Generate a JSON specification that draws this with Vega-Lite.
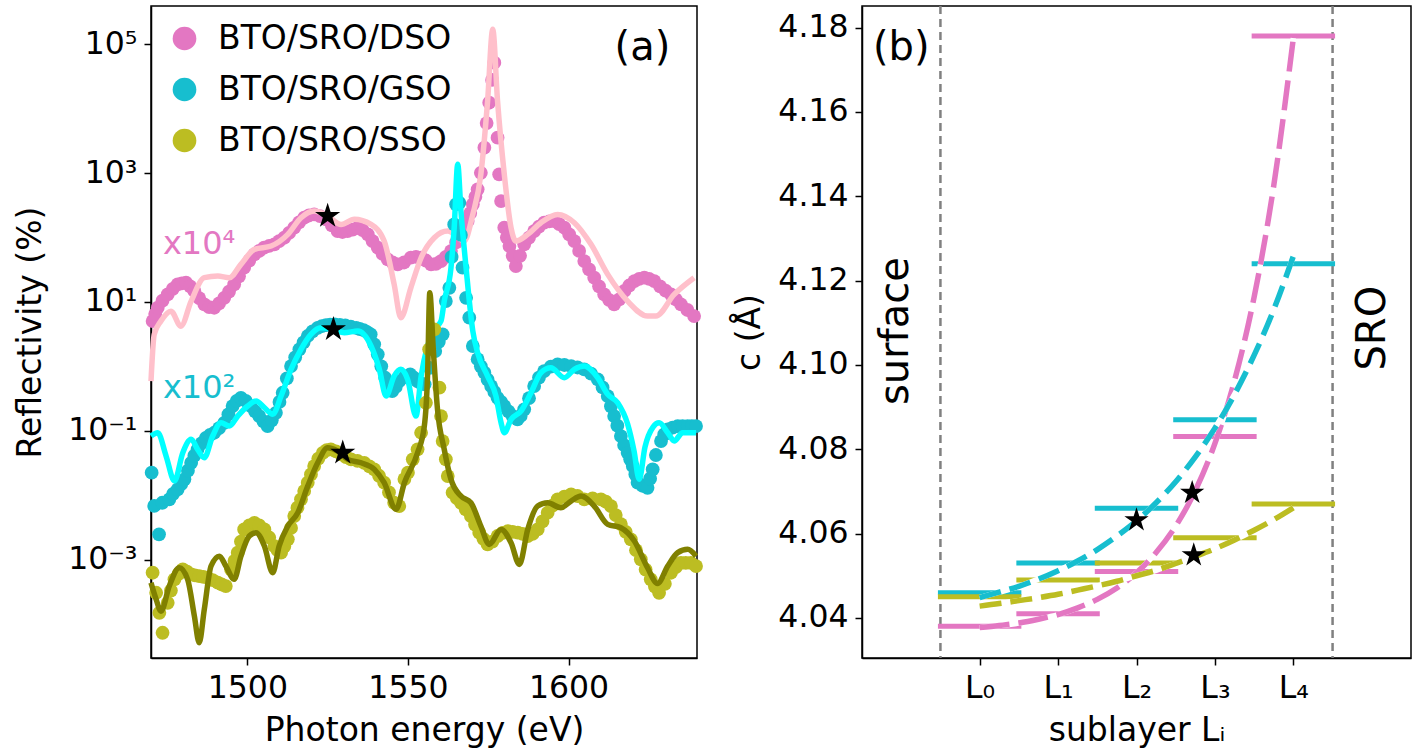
{
  "$schema": "https://vega.github.io/schema/vega-lite/v6.json",
  "autosize": {"type": "pad"},
  "padding": {"left": 13, "top": 4, "right": 12, "bottom": 0},
  "background": "white",
  "bounds": "flush",
  "spacing": 165,
  "resolve": {"scale": {"color": "independent", "x": "independent", "y": "independent"}, "legend": {"color": "independent"}},
  "config": {
    "font": "DejaVu Sans",
    "view": {"stroke": "black", "strokeWidth": 1.5},
    "axis": {
      "labelFont": "DejaVu Sans", "titleFont": "DejaVu Sans",
      "labelFontSize": 31.5, "titleFontSize": 33, "titleFontWeight": "normal",
      "labelColor": "black", "titleColor": "black", "tickColor": "black", "domainColor": "black",
      "tickSize": 7, "tickWidth": 1.5, "domainWidth": 1.5, "grid": false,
      "labelFlush": false, "labelOverlap": false
    },
    "text": {"font": "DejaVu Sans"}
  },
  "datasets": {
    "dots": [
      {"s":"BTO/SRO/DSO","E":1470.5,"R":5.05},{"s":"BTO/SRO/DSO","E":1471.3,"R":6.5},{"s":"BTO/SRO/DSO","E":1472.1,"R":8.13},{"s":"BTO/SRO/DSO","E":1473.6,"R":10.5},{"s":"BTO/SRO/DSO","E":1475.2,"R":13.1},{"s":"BTO/SRO/DSO","E":1476.8,"R":16},{"s":"BTO/SRO/DSO","E":1478.3,"R":18.8},{"s":"BTO/SRO/DSO","E":1479.6,"R":19.5},{"s":"BTO/SRO/DSO","E":1480.9,"R":19.9},{"s":"BTO/SRO/DSO","E":1482.2,"R":17.5},{"s":"BTO/SRO/DSO","E":1483.5,"R":14.8},{"s":"BTO/SRO/DSO","E":1485.0,"R":11.5},{"s":"BTO/SRO/DSO","E":1486.6,"R":9.18},{"s":"BTO/SRO/DSO","E":1488.1,"R":8.3},{"s":"BTO/SRO/DSO","E":1489.7,"R":8.13},{"s":"BTO/SRO/DSO","E":1491.2,"R":9.5},{"s":"BTO/SRO/DSO","E":1492.8,"R":11.6},{"s":"BTO/SRO/DSO","E":1494.3,"R":14.5},{"s":"BTO/SRO/DSO","E":1495.9,"R":18.8},{"s":"BTO/SRO/DSO","E":1497.4,"R":25},{"s":"BTO/SRO/DSO","E":1499.0,"R":34},{"s":"BTO/SRO/DSO","E":1500.6,"R":44},{"s":"BTO/SRO/DSO","E":1502.2,"R":54.8},{"s":"BTO/SRO/DSO","E":1503.7,"R":62},{"s":"BTO/SRO/DSO","E":1505.2,"R":69.5},{"s":"BTO/SRO/DSO","E":1506.8,"R":74},{"s":"BTO/SRO/DSO","E":1508.4,"R":78.4},{"s":"BTO/SRO/DSO","E":1509.9,"R":88},{"s":"BTO/SRO/DSO","E":1511.5,"R":99.3},{"s":"BTO/SRO/DSO","E":1513.0,"R":118},{"s":"BTO/SRO/DSO","E":1514.6,"R":142},{"s":"BTO/SRO/DSO","E":1516.1,"R":172},{"s":"BTO/SRO/DSO","E":1517.7,"R":203},{"s":"BTO/SRO/DSO","E":1519.2,"R":220},{"s":"BTO/SRO/DSO","E":1520.8,"R":229},{"s":"BTO/SRO/DSO","E":1522.6,"R":215},{"s":"BTO/SRO/DSO","E":1524.5,"R":192},{"s":"BTO/SRO/DSO","E":1526.3,"R":155},{"s":"BTO/SRO/DSO","E":1528.1,"R":126},{"s":"BTO/SRO/DSO","E":1529.6,"R":122},{"s":"BTO/SRO/DSO","E":1531.2,"R":126},{"s":"BTO/SRO/DSO","E":1532.8,"R":133},{"s":"BTO/SRO/DSO","E":1534.4,"R":142},{"s":"BTO/SRO/DSO","E":1535.9,"R":130},{"s":"BTO/SRO/DSO","E":1537.5,"R":112},{"s":"BTO/SRO/DSO","E":1539.0,"R":88},{"s":"BTO/SRO/DSO","E":1540.6,"R":69.5},{"s":"BTO/SRO/DSO","E":1542.1,"R":56},{"s":"BTO/SRO/DSO","E":1543.7,"R":45.8},{"s":"BTO/SRO/DSO","E":1545.2,"R":41},{"s":"BTO/SRO/DSO","E":1546.8,"R":38.4},{"s":"BTO/SRO/DSO","E":1548.8,"R":41},{"s":"BTO/SRO/DSO","E":1550.9,"R":48.6},{"s":"BTO/SRO/DSO","E":1552.5,"R":50},{"s":"BTO/SRO/DSO","E":1554.1,"R":48.6},{"s":"BTO/SRO/DSO","E":1555.6,"R":44},{"s":"BTO/SRO/DSO","E":1557.2,"R":38.4},{"s":"BTO/SRO/DSO","E":1558.7,"R":39},{"s":"BTO/SRO/DSO","E":1560.3,"R":43.2},{"s":"BTO/SRO/DSO","E":1561.8,"R":50},{"s":"BTO/SRO/DSO","E":1563.4,"R":61.7},{"s":"BTO/SRO/DSO","E":1565.0,"R":84},{"s":"BTO/SRO/DSO","E":1566.5,"R":112},{"s":"BTO/SRO/DSO","E":1567.6,"R":140},{"s":"BTO/SRO/DSO","E":1568.6,"R":180},{"s":"BTO/SRO/DSO","E":1569.4,"R":240},{"s":"BTO/SRO/DSO","E":1570.2,"R":328},{"s":"BTO/SRO/DSO","E":1571.0,"R":430},{"s":"BTO/SRO/DSO","E":1571.7,"R":560},{"s":"BTO/SRO/DSO","E":1572.7,"R":1010},{"s":"BTO/SRO/DSO","E":1573.8,"R":2480},{"s":"BTO/SRO/DSO","E":1574.5,"R":6000},{"s":"BTO/SRO/DSO","E":1575.3,"R":12400},{"s":"BTO/SRO/DSO","E":1576.2,"R":28000},{"s":"BTO/SRO/DSO","E":1576.9,"R":51800},{"s":"BTO/SRO/DSO","E":1577.9,"R":3550},{"s":"BTO/SRO/DSO","E":1578.4,"R":958},{"s":"BTO/SRO/DSO","E":1579.0,"R":369},{"s":"BTO/SRO/DSO","E":1580.0,"R":142},{"s":"BTO/SRO/DSO","E":1580.8,"R":100},{"s":"BTO/SRO/DSO","E":1581.6,"R":73.8},{"s":"BTO/SRO/DSO","E":1582.6,"R":52},{"s":"BTO/SRO/DSO","E":1583.6,"R":36.1},{"s":"BTO/SRO/DSO","E":1584.9,"R":52},{"s":"BTO/SRO/DSO","E":1586.2,"R":78.4},{"s":"BTO/SRO/DSO","E":1587.7,"R":100},{"s":"BTO/SRO/DSO","E":1589.3,"R":126},{"s":"BTO/SRO/DSO","E":1590.8,"R":148},{"s":"BTO/SRO/DSO","E":1592.4,"R":170},{"s":"BTO/SRO/DSO","E":1594.0,"R":178},{"s":"BTO/SRO/DSO","E":1595.6,"R":180},{"s":"BTO/SRO/DSO","E":1597.1,"R":162},{"s":"BTO/SRO/DSO","E":1598.7,"R":142},{"s":"BTO/SRO/DSO","E":1600.2,"R":112},{"s":"BTO/SRO/DSO","E":1601.8,"R":88.3},{"s":"BTO/SRO/DSO","E":1603.3,"R":62},{"s":"BTO/SRO/DSO","E":1604.9,"R":43.2},{"s":"BTO/SRO/DSO","E":1606.4,"R":32},{"s":"BTO/SRO/DSO","E":1608.0,"R":23.8},{"s":"BTO/SRO/DSO","E":1609.5,"R":17.5},{"s":"BTO/SRO/DSO","E":1611.1,"R":13.1},{"s":"BTO/SRO/DSO","E":1612.6,"R":10.8},{"s":"BTO/SRO/DSO","E":1614.2,"R":9.18},{"s":"BTO/SRO/DSO","E":1615.8,"R":11},{"s":"BTO/SRO/DSO","E":1617.4,"R":14.8},{"s":"BTO/SRO/DSO","E":1618.9,"R":18},{"s":"BTO/SRO/DSO","E":1620.5,"R":21.1},{"s":"BTO/SRO/DSO","E":1622.0,"R":22.8},{"s":"BTO/SRO/DSO","E":1623.6,"R":23.8},{"s":"BTO/SRO/DSO","E":1625.1,"R":22.8},{"s":"BTO/SRO/DSO","E":1626.7,"R":21.1},{"s":"BTO/SRO/DSO","E":1628.5,"R":17.5},{"s":"BTO/SRO/DSO","E":1630.2,"R":15},{"s":"BTO/SRO/DSO","E":1631.9,"R":13.1},{"s":"BTO/SRO/DSO","E":1633.4,"R":11},{"s":"BTO/SRO/DSO","E":1635.0,"R":9.18},{"s":"BTO/SRO/DSO","E":1637.0,"R":7.5},{"s":"BTO/SRO/DSO","E":1639.1,"R":6.04},
      {"s":"BTO/SRO/GSO","E":1470.2,"R":0.0223},{"s":"BTO/SRO/GSO","E":1471.0,"R":0.0068},{"s":"BTO/SRO/GSO","E":1472.5,"R":0.00246},{"s":"BTO/SRO/GSO","E":1473.5,"R":0.00762},{"s":"BTO/SRO/GSO","E":1475.7,"R":0.00861},{"s":"BTO/SRO/GSO","E":1476.9,"R":0.0105},{"s":"BTO/SRO/GSO","E":1478.3,"R":0.0123},{"s":"BTO/SRO/GSO","E":1479.4,"R":0.0148},{"s":"BTO/SRO/GSO","E":1480.4,"R":0.0176},{"s":"BTO/SRO/GSO","E":1481.5,"R":0.024},{"s":"BTO/SRO/GSO","E":1482.5,"R":0.0318},{"s":"BTO/SRO/GSO","E":1483.5,"R":0.041},{"s":"BTO/SRO/GSO","E":1484.5,"R":0.0514},{"s":"BTO/SRO/GSO","E":1485.8,"R":0.064},{"s":"BTO/SRO/GSO","E":1487.1,"R":0.0778},{"s":"BTO/SRO/GSO","E":1488.4,"R":0.086},{"s":"BTO/SRO/GSO","E":1489.7,"R":0.0931},{"s":"BTO/SRO/GSO","E":1491.2,"R":0.11},{"s":"BTO/SRO/GSO","E":1492.8,"R":0.133},{"s":"BTO/SRO/GSO","E":1494.1,"R":0.18},{"s":"BTO/SRO/GSO","E":1495.4,"R":0.242},{"s":"BTO/SRO/GSO","E":1496.7,"R":0.29},{"s":"BTO/SRO/GSO","E":1498.0,"R":0.325},{"s":"BTO/SRO/GSO","E":1499.5,"R":0.29},{"s":"BTO/SRO/GSO","E":1501.1,"R":0.242},{"s":"BTO/SRO/GSO","E":1502.4,"R":0.2},{"s":"BTO/SRO/GSO","E":1503.7,"R":0.169},{"s":"BTO/SRO/GSO","E":1505.0,"R":0.14},{"s":"BTO/SRO/GSO","E":1506.3,"R":0.118},{"s":"BTO/SRO/GSO","E":1507.6,"R":0.145},{"s":"BTO/SRO/GSO","E":1508.9,"R":0.19},{"s":"BTO/SRO/GSO","E":1510.0,"R":0.28},{"s":"BTO/SRO/GSO","E":1511.0,"R":0.389},{"s":"BTO/SRO/GSO","E":1512.3,"R":0.65},{"s":"BTO/SRO/GSO","E":1513.6,"R":1.01},{"s":"BTO/SRO/GSO","E":1514.9,"R":1.38},{"s":"BTO/SRO/GSO","E":1516.2,"R":1.84},{"s":"BTO/SRO/GSO","E":1517.5,"R":2.35},{"s":"BTO/SRO/GSO","E":1518.8,"R":2.96},{"s":"BTO/SRO/GSO","E":1520.3,"R":3.5},{"s":"BTO/SRO/GSO","E":1521.9,"R":3.97},{"s":"BTO/SRO/GSO","E":1523.2,"R":4.2},{"s":"BTO/SRO/GSO","E":1524.5,"R":4.38},{"s":"BTO/SRO/GSO","E":1525.8,"R":4.45},{"s":"BTO/SRO/GSO","E":1527.2,"R":4.49},{"s":"BTO/SRO/GSO","E":1528.8,"R":4.42},{"s":"BTO/SRO/GSO","E":1530.5,"R":4.33},{"s":"BTO/SRO/GSO","E":1532.2,"R":4.15},{"s":"BTO/SRO/GSO","E":1533.9,"R":3.97},{"s":"BTO/SRO/GSO","E":1535.0,"R":3.8},{"s":"BTO/SRO/GSO","E":1536.2,"R":3.66},{"s":"BTO/SRO/GSO","E":1537.3,"R":3.4},{"s":"BTO/SRO/GSO","E":1538.4,"R":3.14},{"s":"BTO/SRO/GSO","E":1539.5,"R":2.2},{"s":"BTO/SRO/GSO","E":1540.6,"R":1.54},{"s":"BTO/SRO/GSO","E":1541.7,"R":1.0},{"s":"BTO/SRO/GSO","E":1542.9,"R":0.665},{"s":"BTO/SRO/GSO","E":1544.0,"R":0.52},{"s":"BTO/SRO/GSO","E":1545.1,"R":0.414},{"s":"BTO/SRO/GSO","E":1546.2,"R":0.48},{"s":"BTO/SRO/GSO","E":1547.3,"R":0.591},{"s":"BTO/SRO/GSO","E":1549.0,"R":0.68},{"s":"BTO/SRO/GSO","E":1550.7,"R":0.751},{"s":"BTO/SRO/GSO","E":1551.8,"R":0.67},{"s":"BTO/SRO/GSO","E":1552.9,"R":0.591},{"s":"BTO/SRO/GSO","E":1554.0,"R":0.55},{"s":"BTO/SRO/GSO","E":1555.2,"R":0.525},{"s":"BTO/SRO/GSO","E":1556.8,"R":0.95},{"s":"BTO/SRO/GSO","E":1558.5,"R":1.73},{"s":"BTO/SRO/GSO","E":1559.6,"R":2.4},{"s":"BTO/SRO/GSO","E":1560.8,"R":3.14},{"s":"BTO/SRO/GSO","E":1561.8,"R":10.3},{"s":"BTO/SRO/GSO","E":1562.9,"R":16.6},{"s":"BTO/SRO/GSO","E":1563.6,"R":50},{"s":"BTO/SRO/GSO","E":1564.4,"R":160},{"s":"BTO/SRO/GSO","E":1565.0,"R":328},{"s":"BTO/SRO/GSO","E":1566.0,"R":347},{"s":"BTO/SRO/GSO","E":1566.5,"R":110},{"s":"BTO/SRO/GSO","E":1567.0,"R":34},{"s":"BTO/SRO/GSO","E":1568.1,"R":11.6},{"s":"BTO/SRO/GSO","E":1569.1,"R":5.69},{"s":"BTO/SRO/GSO","E":1570.2,"R":2.07},{"s":"BTO/SRO/GSO","E":1571.7,"R":1.29},{"s":"BTO/SRO/GSO","E":1572.7,"R":1.0},{"s":"BTO/SRO/GSO","E":1573.8,"R":0.796},{"s":"BTO/SRO/GSO","E":1574.8,"R":0.62},{"s":"BTO/SRO/GSO","E":1575.9,"R":0.494},{"s":"BTO/SRO/GSO","E":1576.9,"R":0.4},{"s":"BTO/SRO/GSO","E":1577.9,"R":0.325},{"s":"BTO/SRO/GSO","E":1579.0,"R":0.28},{"s":"BTO/SRO/GSO","E":1580.0,"R":0.242},{"s":"BTO/SRO/GSO","E":1581.3,"R":0.2},{"s":"BTO/SRO/GSO","E":1582.6,"R":0.169},{"s":"BTO/SRO/GSO","E":1584.1,"R":0.15},{"s":"BTO/SRO/GSO","E":1585.1,"R":0.17},{"s":"BTO/SRO/GSO","E":1586.2,"R":0.215},{"s":"BTO/SRO/GSO","E":1587.7,"R":0.32},{"s":"BTO/SRO/GSO","E":1589.3,"R":0.494},{"s":"BTO/SRO/GSO","E":1590.8,"R":0.67},{"s":"BTO/SRO/GSO","E":1592.4,"R":0.845},{"s":"BTO/SRO/GSO","E":1594.5,"R":0.99},{"s":"BTO/SRO/GSO","E":1596.6,"R":1.07},{"s":"BTO/SRO/GSO","E":1598.7,"R":1.05},{"s":"BTO/SRO/GSO","E":1600.8,"R":1.01},{"s":"BTO/SRO/GSO","E":1602.8,"R":0.96},{"s":"BTO/SRO/GSO","E":1604.9,"R":0.898},{"s":"BTO/SRO/GSO","E":1607.0,"R":0.77},{"s":"BTO/SRO/GSO","E":1609.1,"R":0.628},{"s":"BTO/SRO/GSO","E":1610.6,"R":0.47},{"s":"BTO/SRO/GSO","E":1612.2,"R":0.346},{"s":"BTO/SRO/GSO","E":1613.2,"R":0.24},{"s":"BTO/SRO/GSO","E":1614.2,"R":0.169},{"s":"BTO/SRO/GSO","E":1615.2,"R":0.12},{"s":"BTO/SRO/GSO","E":1616.3,"R":0.0828},{"s":"BTO/SRO/GSO","E":1617.3,"R":0.06},{"s":"BTO/SRO/GSO","E":1618.4,"R":0.0455},{"s":"BTO/SRO/GSO","E":1619.2,"R":0.036},{"s":"BTO/SRO/GSO","E":1620.0,"R":0.0283},{"s":"BTO/SRO/GSO","E":1620.8,"R":0.021},{"s":"BTO/SRO/GSO","E":1621.5,"R":0.0156},{"s":"BTO/SRO/GSO","E":1623.0,"R":0.014},{"s":"BTO/SRO/GSO","E":1624.6,"R":0.013},{"s":"BTO/SRO/GSO","E":1625.4,"R":0.018},{"s":"BTO/SRO/GSO","E":1626.2,"R":0.0252},{"s":"BTO/SRO/GSO","E":1627.2,"R":0.042},{"s":"BTO/SRO/GSO","E":1628.8,"R":0.0692},{"s":"BTO/SRO/GSO","E":1629.8,"R":0.088},{"s":"BTO/SRO/GSO","E":1630.9,"R":0.105},{"s":"BTO/SRO/GSO","E":1632.4,"R":0.112},{"s":"BTO/SRO/GSO","E":1634.0,"R":0.118},{"s":"BTO/SRO/GSO","E":1635.5,"R":0.118},{"s":"BTO/SRO/GSO","E":1637.1,"R":0.118},{"s":"BTO/SRO/GSO","E":1638.4,"R":0.118},{"s":"BTO/SRO/GSO","E":1639.7,"R":0.118},
      {"s":"BTO/SRO/SSO","E":1470.5,"R":0.000624},{"s":"BTO/SRO/SSO","E":1471.6,"R":0.000305},{"s":"BTO/SRO/SSO","E":1472.6,"R":0.000149},{"s":"BTO/SRO/SSO","E":1473.6,"R":0.000073},{"s":"BTO/SRO/SSO","E":1475.2,"R":0.000213},{"s":"BTO/SRO/SSO","E":1476.2,"R":0.00033},{"s":"BTO/SRO/SSO","E":1477.3,"R":0.000493},{"s":"BTO/SRO/SSO","E":1478.6,"R":0.0006},{"s":"BTO/SRO/SSO","E":1479.9,"R":0.000705},{"s":"BTO/SRO/SSO","E":1481.2,"R":0.00065},{"s":"BTO/SRO/SSO","E":1482.5,"R":0.000589},{"s":"BTO/SRO/SSO","E":1483.7,"R":0.00057},{"s":"BTO/SRO/SSO","E":1485.0,"R":0.000555},{"s":"BTO/SRO/SSO","E":1486.3,"R":0.00054},{"s":"BTO/SRO/SSO","E":1487.7,"R":0.000521},{"s":"BTO/SRO/SSO","E":1489.2,"R":0.00048},{"s":"BTO/SRO/SSO","E":1490.8,"R":0.000437},{"s":"BTO/SRO/SSO","E":1492.0,"R":0.00041},{"s":"BTO/SRO/SSO","E":1493.3,"R":0.000388},{"s":"BTO/SRO/SSO","E":1494.9,"R":0.000705},{"s":"BTO/SRO/SSO","E":1496.0,"R":0.00095},{"s":"BTO/SRO/SSO","E":1497.0,"R":0.00128},{"s":"BTO/SRO/SSO","E":1498.0,"R":0.0019},{"s":"BTO/SRO/SSO","E":1499.0,"R":0.00294},{"s":"BTO/SRO/SSO","E":1500.6,"R":0.0034},{"s":"BTO/SRO/SSO","E":1502.2,"R":0.00372},{"s":"BTO/SRO/SSO","E":1503.7,"R":0.0034},{"s":"BTO/SRO/SSO","E":1505.3,"R":0.00294},{"s":"BTO/SRO/SSO","E":1506.8,"R":0.0022},{"s":"BTO/SRO/SSO","E":1508.4,"R":0.00162},{"s":"BTO/SRO/SSO","E":1509.4,"R":0.0014},{"s":"BTO/SRO/SSO","E":1510.5,"R":0.00128},{"s":"BTO/SRO/SSO","E":1511.5,"R":0.0016},{"s":"BTO/SRO/SSO","E":1512.6,"R":0.00206},{"s":"BTO/SRO/SSO","E":1513.6,"R":0.0031},{"s":"BTO/SRO/SSO","E":1514.6,"R":0.00473},{"s":"BTO/SRO/SSO","E":1515.6,"R":0.0064},{"s":"BTO/SRO/SSO","E":1516.7,"R":0.00861},{"s":"BTO/SRO/SSO","E":1517.7,"R":0.0116},{"s":"BTO/SRO/SSO","E":1518.8,"R":0.0156},{"s":"BTO/SRO/SSO","E":1519.8,"R":0.021},{"s":"BTO/SRO/SSO","E":1520.8,"R":0.0283},{"s":"BTO/SRO/SSO","E":1522.1,"R":0.037},{"s":"BTO/SRO/SSO","E":1523.5,"R":0.0455},{"s":"BTO/SRO/SSO","E":1524.7,"R":0.05},{"s":"BTO/SRO/SSO","E":1526.0,"R":0.0514},{"s":"BTO/SRO/SSO","E":1527.6,"R":0.048},{"s":"BTO/SRO/SSO","E":1529.2,"R":0.043},{"s":"BTO/SRO/SSO","E":1530.7,"R":0.039},{"s":"BTO/SRO/SSO","E":1532.3,"R":0.036},{"s":"BTO/SRO/SSO","E":1534.3,"R":0.034},{"s":"BTO/SRO/SSO","E":1536.4,"R":0.0318},{"s":"BTO/SRO/SSO","E":1538.0,"R":0.028},{"s":"BTO/SRO/SSO","E":1539.5,"R":0.0252},{"s":"BTO/SRO/SSO","E":1541.0,"R":0.02},{"s":"BTO/SRO/SSO","E":1542.6,"R":0.0156},{"s":"BTO/SRO/SSO","E":1544.1,"R":0.011},{"s":"BTO/SRO/SSO","E":1545.7,"R":0.00762},{"s":"BTO/SRO/SSO","E":1547.3,"R":0.00678},{"s":"BTO/SRO/SSO","E":1548.9,"R":0.0178},{"s":"BTO/SRO/SSO","E":1550.0,"R":0.0223},{"s":"BTO/SRO/SSO","E":1551.5,"R":0.036},{"s":"BTO/SRO/SSO","E":1553.0,"R":0.0514},{"s":"BTO/SRO/SSO","E":1554.1,"R":0.0931},{"s":"BTO/SRO/SSO","E":1555.6,"R":0.272},{"s":"BTO/SRO/SSO","E":1556.6,"R":1.84},{"s":"BTO/SRO/SSO","E":1558.2,"R":3.76},{"s":"BTO/SRO/SSO","E":1559.8,"R":0.466},{"s":"BTO/SRO/SSO","E":1560.3,"R":0.169},{"s":"BTO/SRO/SSO","E":1560.8,"R":0.0692},{"s":"BTO/SRO/SSO","E":1561.8,"R":0.036},{"s":"BTO/SRO/SSO","E":1562.4,"R":0.0198},{"s":"BTO/SRO/SSO","E":1563.9,"R":0.0109},{"s":"BTO/SRO/SSO","E":1565.2,"R":0.009},{"s":"BTO/SRO/SSO","E":1566.5,"R":0.00762},{"s":"BTO/SRO/SSO","E":1568.0,"R":0.006},{"s":"BTO/SRO/SSO","E":1569.6,"R":0.00473},{"s":"BTO/SRO/SSO","E":1570.9,"R":0.0035},{"s":"BTO/SRO/SSO","E":1572.2,"R":0.00261},{"s":"BTO/SRO/SSO","E":1573.5,"R":0.0021},{"s":"BTO/SRO/SSO","E":1574.8,"R":0.00172},{"s":"BTO/SRO/SSO","E":1576.3,"R":0.0019},{"s":"BTO/SRO/SSO","E":1577.9,"R":0.00232},{"s":"BTO/SRO/SSO","E":1579.5,"R":0.0026},{"s":"BTO/SRO/SSO","E":1581.1,"R":0.00277},{"s":"BTO/SRO/SSO","E":1582.6,"R":0.0027},{"s":"BTO/SRO/SSO","E":1584.2,"R":0.00261},{"s":"BTO/SRO/SSO","E":1585.7,"R":0.0025},{"s":"BTO/SRO/SSO","E":1587.3,"R":0.00232},{"s":"BTO/SRO/SSO","E":1588.8,"R":0.0025},{"s":"BTO/SRO/SSO","E":1590.4,"R":0.00294},{"s":"BTO/SRO/SSO","E":1591.9,"R":0.0039},{"s":"BTO/SRO/SSO","E":1593.5,"R":0.00533},{"s":"BTO/SRO/SSO","E":1595.0,"R":0.0069},{"s":"BTO/SRO/SSO","E":1596.6,"R":0.00861},{"s":"BTO/SRO/SSO","E":1598.7,"R":0.0095},{"s":"BTO/SRO/SSO","E":1600.8,"R":0.0103},{"s":"BTO/SRO/SSO","E":1602.8,"R":0.0097},{"s":"BTO/SRO/SSO","E":1604.9,"R":0.00861},{"s":"BTO/SRO/SSO","E":1607.5,"R":0.0089},{"s":"BTO/SRO/SSO","E":1610.1,"R":0.00861},{"s":"BTO/SRO/SSO","E":1611.6,"R":0.0079},{"s":"BTO/SRO/SSO","E":1613.2,"R":0.00678},{"s":"BTO/SRO/SSO","E":1614.7,"R":0.0049},{"s":"BTO/SRO/SSO","E":1616.3,"R":0.00356},{"s":"BTO/SRO/SSO","E":1617.8,"R":0.0027},{"s":"BTO/SRO/SSO","E":1619.4,"R":0.00206},{"s":"BTO/SRO/SSO","E":1621.0,"R":0.0014},{"s":"BTO/SRO/SSO","E":1622.5,"R":0.00101},{"s":"BTO/SRO/SSO","E":1624.0,"R":0.0007},{"s":"BTO/SRO/SSO","E":1625.6,"R":0.000493},{"s":"BTO/SRO/SSO","E":1626.9,"R":0.00038},{"s":"BTO/SRO/SSO","E":1628.2,"R":0.000305},{"s":"BTO/SRO/SSO","E":1630.0,"R":0.00042},{"s":"BTO/SRO/SSO","E":1631.9,"R":0.000624},{"s":"BTO/SRO/SSO","E":1633.4,"R":0.00076},{"s":"BTO/SRO/SSO","E":1635.0,"R":0.000891},{"s":"BTO/SRO/SSO","E":1636.5,"R":0.00089},{"s":"BTO/SRO/SSO","E":1638.1,"R":0.000891},{"s":"BTO/SRO/SSO","E":1639.7,"R":0.000793}
    ],
    "fits": [
      {"s":"DSO","E":1470.0,"R":0.59},{"s":"DSO","E":1471.0,"R":3.14},{"s":"DSO","E":1473.1,"R":5.05},{"s":"DSO","E":1476.2,"R":7.2},{"s":"DSO","E":1479.3,"R":4.2},{"s":"DSO","E":1482.5,"R":10.3},{"s":"DSO","E":1486.6,"R":23.8},{"s":"DSO","E":1490.8,"R":25.2},{"s":"DSO","E":1494.4,"R":23.8},{"s":"DSO","E":1498.0,"R":38.4},{"s":"DSO","E":1502.2,"R":65.6},{"s":"DSO","E":1507.4,"R":73.8},{"s":"DSO","E":1512.6,"R":112},{"s":"DSO","E":1516.7,"R":203},{"s":"DSO","E":1520.8,"R":258},{"s":"DSO","E":1525.0,"R":216},{"s":"DSO","E":1529.2,"R":160},{"s":"DSO","E":1533.3,"R":192},{"s":"DSO","E":1538.5,"R":160},{"s":"DSO","E":1542.6,"R":88.3},{"s":"DSO","E":1545.7,"R":18.8},{"s":"DSO","E":1547.8,"R":5.69},{"s":"DSO","E":1550.9,"R":16.6},{"s":"DSO","E":1554.1,"R":48.6},{"s":"DSO","E":1558.2,"R":99.3},{"s":"DSO","E":1562.4,"R":126},{"s":"DSO","E":1567.5,"R":88.3},{"s":"DSO","E":1570.2,"R":229},{"s":"DSO","E":1572.7,"R":958},{"s":"DSO","E":1574.8,"R":13200},{"s":"DSO","E":1576.4,"R":171000},{"s":"DSO","E":1577.9,"R":13200},{"s":"DSO","E":1580.0,"R":958},{"s":"DSO","E":1582.1,"R":142},{"s":"DSO","E":1583.6,"R":88.3},{"s":"DSO","E":1587.3,"R":112},{"s":"DSO","E":1591.4,"R":170},{"s":"DSO","E":1596.6,"R":229},{"s":"DSO","E":1601.8,"R":170},{"s":"DSO","E":1607.0,"R":78.4},{"s":"DSO","E":1612.2,"R":26.8},{"s":"DSO","E":1618.4,"R":10.3},{"s":"DSO","E":1624.6,"R":6.04},{"s":"DSO","E":1627.2,"R":6.04},{"s":"DSO","E":1632.9,"R":13.1},{"s":"DSO","E":1639.1,"R":23.8},
      {"s":"GSO","E":1470.0,"R":0.0828},{"s":"GSO","E":1472.1,"R":0.0931},{"s":"GSO","E":1474.7,"R":0.0405},{"s":"GSO","E":1477.3,"R":0.0166},{"s":"GSO","E":1479.9,"R":0.0455},{"s":"GSO","E":1482.5,"R":0.0735},{"s":"GSO","E":1484.5,"R":0.0514},{"s":"GSO","E":1486.6,"R":0.0381},{"s":"GSO","E":1489.2,"R":0.0828},{"s":"GSO","E":1491.8,"R":0.133},{"s":"GSO","E":1494.4,"R":0.118},{"s":"GSO","E":1497.0,"R":0.169},{"s":"GSO","E":1500.1,"R":0.242},{"s":"GSO","E":1502.7,"R":0.289},{"s":"GSO","E":1505.3,"R":0.228},{"s":"GSO","E":1507.9,"R":0.18},{"s":"GSO","E":1510.5,"R":0.346},{"s":"GSO","E":1513.6,"R":0.898},{"s":"GSO","E":1516.7,"R":1.84},{"s":"GSO","E":1519.8,"R":3.14},{"s":"GSO","E":1522.9,"R":3.97},{"s":"GSO","E":1526.6,"R":3.76},{"s":"GSO","E":1530.2,"R":3.33},{"s":"GSO","E":1534.4,"R":3.53},{"s":"GSO","E":1538.5,"R":2.07},{"s":"GSO","E":1541.1,"R":0.898},{"s":"GSO","E":1543.2,"R":0.346},{"s":"GSO","E":1545.7,"R":0.706},{"s":"GSO","E":1547.8,"R":0.898},{"s":"GSO","E":1549.9,"R":0.628},{"s":"GSO","E":1552.5,"R":0.169},{"s":"GSO","E":1554.1,"R":0.706},{"s":"GSO","E":1556.1,"R":2.07},{"s":"GSO","E":1558.2,"R":3.76},{"s":"GSO","E":1560.3,"R":5.05},{"s":"GSO","E":1561.3,"R":10.3},{"s":"GSO","E":1563.4,"R":34},{"s":"GSO","E":1564.4,"R":142},{"s":"GSO","E":1565.5,"R":1370},{"s":"GSO","E":1566.5,"R":258},{"s":"GSO","E":1568.1,"R":34},{"s":"GSO","E":1570.2,"R":3.53},{"s":"GSO","E":1571.7,"R":1.63},{"s":"GSO","E":1574.8,"R":0.706},{"s":"GSO","E":1577.4,"R":0.346},{"s":"GSO","E":1579.0,"R":0.133},{"s":"GSO","E":1580.0,"R":0.0931},{"s":"GSO","E":1582.1,"R":0.15},{"s":"GSO","E":1585.2,"R":0.202},{"s":"GSO","E":1588.3,"R":0.389},{"s":"GSO","E":1591.4,"R":0.796},{"s":"GSO","E":1594.5,"R":0.951},{"s":"GSO","E":1598.7,"R":0.665},{"s":"GSO","E":1601.8,"R":0.898},{"s":"GSO","E":1604.9,"R":1.01},{"s":"GSO","E":1609.1,"R":0.665},{"s":"GSO","E":1612.2,"R":0.367},{"s":"GSO","E":1615.3,"R":0.272},{"s":"GSO","E":1618.4,"R":0.127},{"s":"GSO","E":1620.4,"R":0.0484},{"s":"GSO","E":1622.0,"R":0.0176},{"s":"GSO","E":1623.8,"R":0.0558},{"s":"GSO","E":1626.3,"R":0.114},{"s":"GSO","E":1628.2,"R":0.133},{"s":"GSO","E":1630.9,"R":0.0931},{"s":"GSO","E":1632.9,"R":0.0692},{"s":"GSO","E":1635.5,"R":0.0931},{"s":"GSO","E":1639.7,"R":0.0931},
      {"s":"SSO","E":1470.0,"R":0.000437},{"s":"SSO","E":1471.6,"R":0.000241},{"s":"SSO","E":1473.1,"R":0.000158},{"s":"SSO","E":1475.7,"R":0.000388},{"s":"SSO","E":1478.8,"R":0.000746},{"s":"SSO","E":1481.4,"R":0.000493},{"s":"SSO","E":1483.5,"R":0.000133},{"s":"SSO","E":1485.0,"R":0.0000511},{"s":"SSO","E":1486.6,"R":0.000169},{"s":"SSO","E":1488.7,"R":0.000793},{"s":"SSO","E":1491.3,"R":0.00113},{"s":"SSO","E":1493.3,"R":0.000793},{"s":"SSO","E":1495.9,"R":0.000493},{"s":"SSO","E":1498.0,"R":0.00113},{"s":"SSO","E":1500.6,"R":0.00232},{"s":"SSO","E":1502.7,"R":0.00261},{"s":"SSO","E":1505.3,"R":0.00162},{"s":"SSO","E":1507.9,"R":0.000624},{"s":"SSO","E":1509.9,"R":0.00162},{"s":"SSO","E":1512.6,"R":0.00331},{"s":"SSO","E":1515.7,"R":0.00533},{"s":"SSO","E":1518.8,"R":0.0138},{"s":"SSO","E":1521.9,"R":0.0318},{"s":"SSO","E":1525.0,"R":0.0545},{"s":"SSO","E":1528.1,"R":0.0484},{"s":"SSO","E":1531.2,"R":0.036},{"s":"SSO","E":1535.4,"R":0.0318},{"s":"SSO","E":1539.5,"R":0.0252},{"s":"SSO","E":1542.6,"R":0.0156},{"s":"SSO","E":1546.3,"R":0.00603},{"s":"SSO","E":1548.9,"R":0.0156},{"s":"SSO","E":1553.0,"R":0.0455},{"s":"SSO","E":1555.1,"R":0.118},{"s":"SSO","E":1556.1,"R":0.706},{"s":"SSO","E":1556.8,"R":13.9},{"s":"SSO","E":1557.9,"R":1.8},{"s":"SSO","E":1559.2,"R":0.215},{"s":"SSO","E":1561.3,"R":0.0514},{"s":"SSO","E":1563.4,"R":0.0176},{"s":"SSO","E":1566.5,"R":0.00968},{"s":"SSO","E":1569.6,"R":0.00762},{"s":"SSO","E":1572.7,"R":0.00331},{"s":"SSO","E":1575.3,"R":0.00172},{"s":"SSO","E":1579.0,"R":0.00294},{"s":"SSO","E":1582.1,"R":0.00182},{"s":"SSO","E":1584.7,"R":0.000841},{"s":"SSO","E":1587.3,"R":0.00294},{"s":"SSO","E":1590.4,"R":0.00678},{"s":"SSO","E":1593.5,"R":0.00762},{"s":"SSO","E":1597.6,"R":0.00637},{"s":"SSO","E":1600.8,"R":0.00809},{"s":"SSO","E":1603.9,"R":0.00968},{"s":"SSO","E":1608.0,"R":0.00678},{"s":"SSO","E":1612.2,"R":0.00352},{"s":"SSO","E":1616.3,"R":0.00312},{"s":"SSO","E":1620.5,"R":0.00194},{"s":"SSO","E":1624.6,"R":0.000746},{"s":"SSO","E":1627.7,"R":0.000424},{"s":"SSO","E":1630.9,"R":0.000793},{"s":"SSO","E":1634.0,"R":0.00128},{"s":"SSO","E":1637.1,"R":0.00144},{"s":"SSO","E":1639.7,"R":0.00113}
    ],
    "starsA": [{"E":1525.0,"R":216},{"E":1526.8,"R":3.76},{"E":1529.7,"R":0.0455}],
    "segs": [
      {"s":"DSO","lo":-0.5,"hi":0.5,"c":4.038},{"s":"DSO","lo":0.5,"hi":1.5,"c":4.041},{"s":"DSO","lo":1.5,"hi":2.5,"c":4.051},{"s":"DSO","lo":2.5,"hi":3.5,"c":4.083},{"s":"DSO","lo":3.5,"hi":4.5,"c":4.178},
      {"s":"GSO","lo":-0.5,"hi":0.5,"c":4.046},{"s":"GSO","lo":0.5,"hi":1.5,"c":4.053},{"s":"GSO","lo":1.5,"hi":2.5,"c":4.066},{"s":"GSO","lo":2.5,"hi":3.5,"c":4.087},{"s":"GSO","lo":3.5,"hi":4.5,"c":4.124},
      {"s":"SSO","lo":-0.5,"hi":0.5,"c":4.045},{"s":"SSO","lo":0.5,"hi":1.5,"c":4.049},{"s":"SSO","lo":1.5,"hi":2.5,"c":4.053},{"s":"SSO","lo":2.5,"hi":3.5,"c":4.059},{"s":"SSO","lo":3.5,"hi":4.5,"c":4.067}
    ],
    "curves": [
      {"s":"DSO","x":0,"c":4.0377},{"s":"DSO","x":0.25,"c":4.0382},{"s":"DSO","x":0.5,"c":4.0388},{"s":"DSO","x":0.75,"c":4.0397},{"s":"DSO","x":1,"c":4.0408},{"s":"DSO","x":1.25,"c":4.0424},{"s":"DSO","x":1.5,"c":4.0444},{"s":"DSO","x":1.75,"c":4.0471},{"s":"DSO","x":2,"c":4.0507},{"s":"DSO","x":2.25,"c":4.0555},{"s":"DSO","x":2.5,"c":4.0618},{"s":"DSO","x":2.75,"c":4.0702},{"s":"DSO","x":3,"c":4.0814},{"s":"DSO","x":3.25,"c":4.0963},{"s":"DSO","x":3.5,"c":4.1161},{"s":"DSO","x":3.75,"c":4.1425},{"s":"DSO","x":4,"c":4.1775},
      {"s":"GSO","x":0,"c":4.0448},{"s":"GSO","x":0.25,"c":4.0461},{"s":"GSO","x":0.5,"c":4.0475},{"s":"GSO","x":0.75,"c":4.0492},{"s":"GSO","x":1,"c":4.0512},{"s":"GSO","x":1.25,"c":4.0535},{"s":"GSO","x":1.5,"c":4.0562},{"s":"GSO","x":1.75,"c":4.0594},{"s":"GSO","x":2,"c":4.063},{"s":"GSO","x":2.25,"c":4.0673},{"s":"GSO","x":2.5,"c":4.0723},{"s":"GSO","x":2.75,"c":4.0782},{"s":"GSO","x":3,"c":4.085},{"s":"GSO","x":3.25,"c":4.093},{"s":"GSO","x":3.5,"c":4.1023},{"s":"GSO","x":3.75,"c":4.1131},{"s":"GSO","x":4,"c":4.1258},
      {"s":"SSO","x":0,"c":4.0428},{"s":"SSO","x":0.25,"c":4.0434},{"s":"SSO","x":0.5,"c":4.0441},{"s":"SSO","x":0.75,"c":4.0448},{"s":"SSO","x":1,"c":4.0456},{"s":"SSO","x":1.25,"c":4.0466},{"s":"SSO","x":1.5,"c":4.0476},{"s":"SSO","x":1.75,"c":4.0487},{"s":"SSO","x":2,"c":4.05},{"s":"SSO","x":2.25,"c":4.0513},{"s":"SSO","x":2.5,"c":4.0529},{"s":"SSO","x":2.75,"c":4.0546},{"s":"SSO","x":3,"c":4.0564},{"s":"SSO","x":3.25,"c":4.0585},{"s":"SSO","x":3.5,"c":4.0608},{"s":"SSO","x":3.75,"c":4.0633},{"s":"SSO","x":4,"c":4.0661}
    ],
    "starsB": [{"x":2.0,"c":4.0632},{"x":2.71,"c":4.0697},{"x":2.73,"c":4.0549}],
    "bounds": [{"x":-0.5},{"x":4.5}]
  },
  "hconcat": [
    {
      "width": 546,
      "height": 652,
      "encoding": {
        "x": {"field": "E", "type": "quantitative", "scale": {"domain": [1470, 1640], "nice": false, "zero": false},
              "axis": {"values": [1500, 1550, 1600], "format": "d", "title": "Photon energy (eV)", "labelPadding": 7, "titleX": 273, "titleY": 82, "titleBaseline": "alphabetic", "titleAlign": "center"}},
        "y": {"field": "R", "type": "quantitative", "scale": {"type": "log", "domain": [2.96e-5, 3.94e5], "nice": false},
              "axis": {"values": [0.001, 0.1, 10, 1000, 100000], "labelExpr": "['10⁻³','','10⁻¹','','10¹','','10³','','10⁵'][round(log(datum.value)/LN10)+3]", "labelPadding": 7, "title": "Reflectivity (%)", "titleX": -111, "titleY": 326, "titleAngle": 270, "titleAlign": "center", "titleBaseline": "alphabetic"}}
      },
      "layer": [
        {
          "data": {"name": "dots"},
          "transform": [{"filter": "datum.s == 'BTO/SRO/DSO'"}],
          "mark": {"type": "point", "filled": true, "size": 190, "opacity": 1, "strokeWidth": 0},
          "encoding": {
            "color": {"field": "s", "type": "nominal",
              "scale": {"domain": ["BTO/SRO/DSO", "BTO/SRO/GSO", "BTO/SRO/SSO"], "range": ["#e377c2", "#17becf", "#bcbd22"]},
              "legend": {"orient": "none", "legendX": 17, "legendY": 16, "title": null, "symbolType": "circle", "symbolSize": 560,
                         "labelFontSize": 33, "labelFont": "DejaVu Sans", "labelColor": "black", "labelLimit": 500, "rowPadding": 17, "labelOffset": 17,
                         "padding": 0, "symbolStrokeWidth": 0, "symbolOpacity": 1}}
          }
        },
        {
          "data": {"name": "fits"},
          "transform": [{"filter": "datum.s == 'DSO'"}],
          "mark": {"type": "line", "color": "#ffc0cb", "strokeWidth": 5.5, "interpolate": "monotone"}
        },
        {
          "data": {"name": "dots"},
          "transform": [{"filter": "datum.s == 'BTO/SRO/GSO'"}],
          "mark": {"type": "point", "filled": true, "size": 190, "opacity": 1, "strokeWidth": 0},
          "encoding": {"color": {"field": "s", "type": "nominal"}}
        },
        {
          "data": {"name": "fits"},
          "transform": [{"filter": "datum.s == 'GSO'"}],
          "mark": {"type": "line", "color": "#00ffff", "strokeWidth": 5.5, "interpolate": "monotone"}
        },
        {
          "data": {"name": "dots"},
          "transform": [{"filter": "datum.s == 'BTO/SRO/SSO'"}],
          "mark": {"type": "point", "filled": true, "size": 190, "opacity": 1, "strokeWidth": 0},
          "encoding": {"color": {"field": "s", "type": "nominal"}}
        },
        {
          "data": {"name": "fits"},
          "transform": [{"filter": "datum.s == 'SSO'"}],
          "mark": {"type": "line", "color": "#808000", "strokeWidth": 5.5, "interpolate": "monotone"}
        },
        {
          "data": {"name": "starsA"},
          "mark": {"type": "point", "shape": "M0,-1L0.2245,-0.309L0.951,-0.309L0.363,0.118L0.588,0.809L0,0.382L-0.588,0.809L-0.363,0.118L-0.951,-0.309L-0.2245,-0.309Z", "filled": true, "color": "black", "size": 700, "opacity": 1}
        },
        {
          "data": {"values": [{"E": 1473.7, "R": 55.5, "label": "x10⁴"}]},
          "mark": {"type": "text", "align": "left", "baseline": "alphabetic", "fontSize": 32, "color": "#e377c2"},
          "encoding": {"text": {"field": "label"}}
        },
        {
          "data": {"values": [{"E": 1473.7, "R": 0.325, "label": "x10²"}]},
          "mark": {"type": "text", "align": "left", "baseline": "alphabetic", "fontSize": 32, "color": "#17becf"},
          "encoding": {"text": {"field": "label"}}
        },
        {
          "data": {"values": [{"E": 1623.0, "R": 57000, "label": "(a)"}]},
          "mark": {"type": "text", "align": "center", "baseline": "alphabetic", "fontSize": 40, "color": "black"},
          "encoding": {"text": {"field": "label"}}
        }
      ]
    },
    {
      "width": 549,
      "height": 652,
      "encoding": {
        "y": {"field": "c", "type": "quantitative", "scale": {"domain": [4.0305, 4.1851], "nice": false, "zero": false},
              "axis": {"values": [4.04, 4.06, 4.08, 4.10, 4.12, 4.14, 4.16, 4.18], "format": ".2f", "labelPadding": 7, "title": "c (Å)", "titleX": -103, "titleY": 326, "titleAngle": 270, "titleAlign": "center", "titleBaseline": "alphabetic"}}
      },
      "layer": [
        {
          "data": {"name": "bounds"},
          "mark": {"type": "rule", "color": "#808080", "strokeWidth": 2.5, "strokeDash": [8, 5]},
          "encoding": {
            "x": {"field": "x", "type": "quantitative", "scale": {"domain": [-1.5, 5.5], "nice": false, "zero": false},
                  "axis": {"values": [0, 1, 2, 3, 4], "labelExpr": "'L' + ['₀','₁','₂','₃','₄'][datum.value]", "labelPadding": 7, "title": "sublayer Lᵢ", "titleX": 274.5, "titleY": 82, "titleBaseline": "alphabetic", "titleAlign": "center"}},
            "y": null
          }
        },
        {
          "data": {"name": "segs"},
          "mark": {"type": "rule", "strokeWidth": 5, "strokeCap": "square"},
          "encoding": {
            "x": {"field": "lo", "type": "quantitative"},
            "x2": {"field": "hi"},
            "color": {"field": "s", "type": "nominal", "scale": {"domain": ["DSO", "GSO", "SSO"], "range": ["#e377c2", "#17becf", "#bcbd22"]}, "legend": null}
          }
        },
        {
          "data": {"name": "curves"},
          "transform": [{"filter": "datum.s == 'DSO'"}],
          "mark": {"type": "line", "color": "white", "strokeWidth": 5.5, "interpolate": "monotone"},
          "encoding": {"x": {"field": "x", "type": "quantitative"}}
        },
        {
          "data": {"name": "curves"},
          "transform": [{"filter": "datum.s == 'DSO'"}],
          "mark": {"type": "line", "color": "#e377c2", "strokeWidth": 5.5, "strokeDash": [30, 9], "interpolate": "monotone"},
          "encoding": {"x": {"field": "x", "type": "quantitative"}}
        },
        {
          "data": {"name": "curves"},
          "transform": [{"filter": "datum.s == 'GSO'"}],
          "mark": {"type": "line", "color": "white", "strokeWidth": 5.5, "interpolate": "monotone"},
          "encoding": {"x": {"field": "x", "type": "quantitative"}}
        },
        {
          "data": {"name": "curves"},
          "transform": [{"filter": "datum.s == 'GSO'"}],
          "mark": {"type": "line", "color": "#17becf", "strokeWidth": 5.5, "strokeDash": [22, 9], "interpolate": "monotone"},
          "encoding": {"x": {"field": "x", "type": "quantitative"}}
        },
        {
          "data": {"name": "curves"},
          "transform": [{"filter": "datum.s == 'SSO'"}],
          "mark": {"type": "line", "color": "white", "strokeWidth": 5.5, "interpolate": "monotone"},
          "encoding": {"x": {"field": "x", "type": "quantitative"}}
        },
        {
          "data": {"name": "curves"},
          "transform": [{"filter": "datum.s == 'SSO'"}],
          "mark": {"type": "line", "color": "#bcbd22", "strokeWidth": 5.5, "strokeDash": [22, 9], "interpolate": "monotone"},
          "encoding": {"x": {"field": "x", "type": "quantitative"}}
        },
        {
          "data": {"name": "starsB"},
          "mark": {"type": "point", "shape": "M0,-1L0.2245,-0.309L0.951,-0.309L0.363,0.118L0.588,0.809L0,0.382L-0.588,0.809L-0.363,0.118L-0.951,-0.309L-0.2245,-0.309Z", "filled": true, "color": "black", "size": 650, "opacity": 1},
          "encoding": {"x": {"field": "x", "type": "quantitative"}}
        },
        {
          "data": {"values": [{"x": -1.0, "c": 4.1723, "label": "(b)"}]},
          "mark": {"type": "text", "align": "center", "baseline": "alphabetic", "fontSize": 40, "color": "black"},
          "encoding": {"x": {"field": "x", "type": "quantitative"}, "text": {"field": "label"}}
        },
        {
          "data": {"values": [{"x": -1.066, "c": 4.108, "label": "surface"}, {"x": 5.02, "c": 4.1087, "label": "SRO"}]},
          "mark": {"type": "text", "align": "center", "baseline": "middle", "angle": 270, "fontSize": 40, "color": "black"},
          "encoding": {"x": {"field": "x", "type": "quantitative"}, "text": {"field": "label"}}
        }
      ]
    }
  ]
}
